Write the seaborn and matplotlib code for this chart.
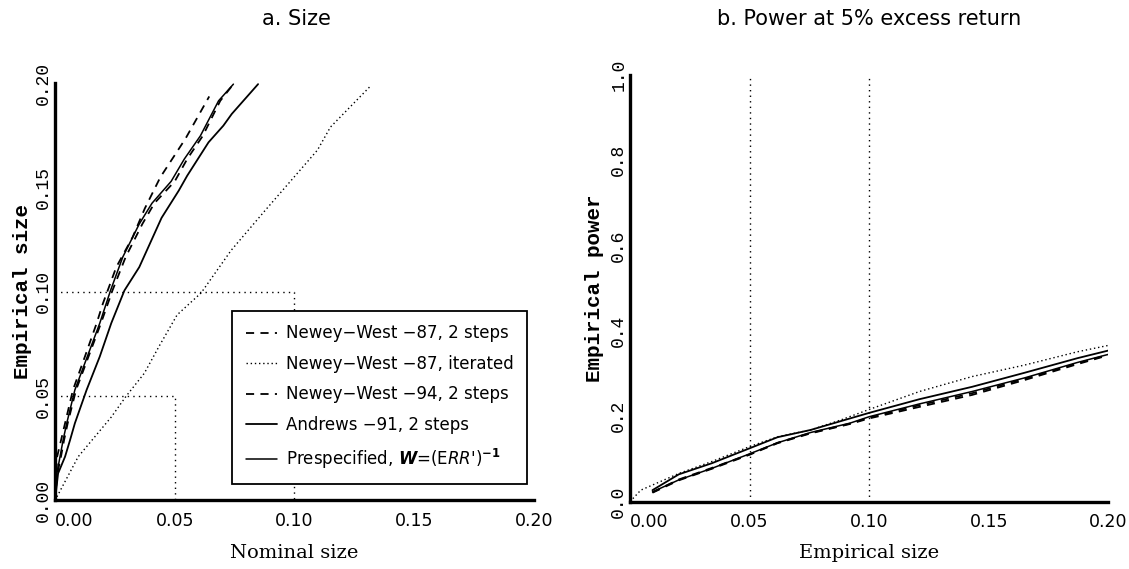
import numpy as np
import pandas as pd
import matplotlib
matplotlib.use("Agg")
import matplotlib.pyplot as plt
import seaborn as sns

# ---------------- data: panel a (size) ----------------
a_nw87_x = [0, 0.0009, 0.0042, 0.0075, 0.0125, 0.0174, 0.0200, 0.0256, 0.0324, 0.0375, 0.0440, 0.0545, 0.0644]
a_nw87_y = [0, 0.021, 0.037, 0.053, 0.069, 0.085, 0.0944, 0.1119, 0.1262, 0.1400, 0.155, 0.1735, 0.1937]

a_iter_x = [0, 0.0097, 0.0235, 0.0297, 0.0373, 0.0435, 0.0510, 0.0610, 0.0736, 0.0877, 0.1013, 0.1096, 0.1150, 0.1320]
a_iter_y = [0, 0.021, 0.040, 0.050, 0.061, 0.074, 0.089, 0.0995, 0.120, 0.139, 0.157, 0.168, 0.179, 0.199]

a_nw94_x = [0, 0.0010, 0.0025, 0.0038, 0.0053, 0.0088, 0.0140, 0.0192, 0.0240, 0.0295, 0.0365, 0.0415, 0.0500, 0.0552, 0.0617, 0.0690, 0.0745]
a_nw94_y = [0, 0.013, 0.021, 0.029, 0.037, 0.053, 0.069, 0.085, 0.1007, 0.1167, 0.1326, 0.1425, 0.153, 0.1637, 0.1748, 0.1916, 0.1996]

a_andr_x = [0, 0.0013, 0.0042, 0.0063, 0.0083, 0.0132, 0.0187, 0.0235, 0.0290, 0.0352, 0.0445, 0.0517, 0.0552, 0.0641, 0.0703, 0.0738, 0.0848]
a_andr_y = [0, 0.013, 0.021, 0.029, 0.037, 0.053, 0.069, 0.085, 0.1007, 0.1119, 0.1355, 0.1486, 0.1557, 0.1717, 0.1797, 0.1853, 0.1996]

a_pre_x = [0, 0.0008, 0.0021, 0.0034, 0.0049, 0.0083, 0.0135, 0.0187, 0.0232, 0.0283, 0.0352, 0.0405, 0.0485, 0.0540, 0.0607, 0.0683, 0.0745]
a_pre_y = [0, 0.013, 0.021, 0.029, 0.037, 0.053, 0.069, 0.085, 0.1007, 0.1167, 0.1326, 0.1425, 0.153, 0.1637, 0.1748, 0.1916, 0.1996]

# ---------------- data: panel b (power) ----------------
b_iter_x = [0, 0.0045, 0.0204, 0.0342, 0.050, 0.0617, 0.0755, 0.0879, 0.100, 0.121, 0.143, 0.165, 0.187, 0.200]
b_iter_y = [0, 0.027, 0.066, 0.094, 0.129, 0.152, 0.168, 0.191, 0.216, 0.258, 0.293, 0.320, 0.351, 0.366]

b_grid_x = [0.0094, 0.0204, 0.0342, 0.050, 0.0617, 0.0755, 0.092, 0.100, 0.121, 0.143, 0.165, 0.187, 0.200]
b_andr_y = [0.027, 0.064, 0.090, 0.125, 0.151, 0.168, 0.195, 0.208, 0.240, 0.269, 0.302, 0.336, 0.354]
b_pre_y = [0.023, 0.051, 0.078, 0.112, 0.138, 0.162, 0.184, 0.199, 0.229, 0.258, 0.290, 0.326, 0.345]
b_nw87_y = [0.021, 0.050, 0.077, 0.110, 0.137, 0.160, 0.182, 0.195, 0.222, 0.250, 0.285, 0.322, 0.343]
b_nw94_y = [0.022, 0.052, 0.079, 0.111, 0.138, 0.161, 0.183, 0.197, 0.226, 0.254, 0.288, 0.324, 0.344]

x_ticks = [0, 0.05, 0.10, 0.15, 0.20]
x_ticklabels = ["0.00", "0.05", "0.10", "0.15", "0.20"]
a_yticks = [0, 0.05, 0.10, 0.15, 0.20]
a_yticklabels = ["0.00", "0.05", "0.10", "0.15", "0.20"]
b_yticks = [0, 0.1, 0.2, 0.3, 0.4, 0.5, 0.6, 0.7, 0.8, 0.9, 1.0]
b_yticklabels = ["0.0", "", "0.2", "", "0.4", "", "0.6", "", "0.8", "", "1.0"]

labels = ["Newey\u2212West \u221287, 2 steps",
          "Newey\u2212West \u221287, iterated",
          "Newey\u2212West \u221294, 2 steps",
          "Andrews \u221291, 2 steps",
          r"Prespecified, $\mathbfit{W}$=(E$\mathit{RR}$')$^{\mathbf{-1}}$"]

sns.set_theme(style="white")
SANS = ['DejaVu Sans']
plt.rcParams['font.family'] = SANS
plt.rcParams['mathtext.fontset'] = 'dejavusans'
for k in ('text.color', 'axes.labelcolor', 'xtick.color', 'ytick.color', 'axes.edgecolor'):
    plt.rcParams[k] = 'black'

fig = plt.figure(figsize=(11.29, 5.69), dpi=100)
axa = fig.add_axes([0.0487, 0.1204, 0.4243, 0.7332])
axb = fig.add_axes([0.5580, 0.1183, 0.4238, 0.7505])

DASH = (0, (4.5, 3.5))
DOT = (0, (1, 2))
LW = 1.3

def draw(ax, x, y, ls, lw=LW, label=None):
    df = pd.DataFrame({"x": x, "y": y})
    sns.lineplot(data=df, x="x", y="y", ax=ax, color="black", linestyle=ls,
                 linewidth=lw, estimator=None, sort=False, label=label)

refdot = (0, (1, 3))
axa.plot([0, 0.10, 0.10], [0.10, 0.10, 0], color="black", lw=1.0, linestyle=refdot)
axa.plot([0, 0.05, 0.05], [0.05, 0.05, 0], color="black", lw=1.0, linestyle=refdot)

draw(axa, a_nw87_x, a_nw87_y, DASH, label=labels[0])
draw(axa, a_iter_x, a_iter_y, DOT, lw=1.0, label=labels[1])
draw(axa, a_nw94_x, a_nw94_y, DASH, label=labels[2])
draw(axa, a_andr_x, a_andr_y, "-", label=labels[3])
draw(axa, a_pre_x, a_pre_y, "-", lw=1.1, label=labels[4])

for xv in (0.05, 0.10):
    axb.plot([xv, xv], [0, 1.0], color="black", lw=1.0, linestyle=refdot)
draw(axb, b_grid_x, b_nw87_y, DASH)
draw(axb, b_iter_x, b_iter_y, DOT, lw=1.0)
draw(axb, b_grid_x, b_nw94_y, DASH)
draw(axb, b_grid_x, b_andr_y, "-")
draw(axb, b_grid_x, b_pre_y, "-", lw=1.1)

tick_font = dict(family=SANS, size=12.5, color='black')
ytick_font = dict(family=['Liberation Mono', 'DejaVu Sans Mono'], size=13, color='black')

def style_axes(ax, ymax, yticks, ylabels):
    ax.set_xlim(0, 0.20)
    ax.set_ylim(0, ymax)
    for s in ("top", "right"):
        ax.spines[s].set_visible(False)
    for s in ("left", "bottom"):
        ax.spines[s].set_linewidth(2.4)
        ax.spines[s].set_color("black")
    ax.set_xticks(x_ticks)
    ax.set_xticklabels(x_ticklabels, fontdict=tick_font)
    ax.get_xticklabels()[0].set_ha("left")
    ax.set_yticks(yticks)
    ax.set_yticklabels(ylabels, fontdict=ytick_font, rotation=90, va="center")
    ax.tick_params(axis="both", direction="in", length=5, width=1.2, color="black")
    ax.tick_params(axis="x", pad=8)
    ax.tick_params(axis="y", pad=2)
    ax.grid(False)

style_axes(axa, 0.20, a_yticks, a_yticklabels)
style_axes(axb, 1.0, b_yticks, b_yticklabels)

ylab_font = dict(family=['Liberation Mono', 'DejaVu Sans Mono'], size=15, weight='bold', color='black')
xlab_font = dict(family=['DejaVu Serif'], size=14, color='black')
axa.set_ylabel("Empirical size", fontdict=ylab_font)
axb.set_ylabel("Empirical power", fontdict=ylab_font)
axa.set_xlabel("Nominal size", fontdict=xlab_font)
axb.set_xlabel("Empirical size", fontdict=xlab_font)
for ax, yl, xl in ((axa, -0.068, -0.126), (axb, -0.075, -0.12)):
    ax.yaxis.set_label_coords(yl, 0.5)
    ax.yaxis.label.set_va("center")
    ax.xaxis.set_label_coords(0.5, xl)
    ax.xaxis.label.set_va("center")

fig.text(0.2626, 0.9666, "a. Size", ha="center", va="center", fontsize=15, family=SANS, color='black')
fig.text(0.7697, 0.9666, "b. Power at 5% excess return", ha="center", va="center", fontsize=15,
         family=SANS, color='black')

leg = axa.legend(loc="upper right", bbox_to_anchor=(0.985, 0.454), borderaxespad=0,
                 fancybox=False, framealpha=1, edgecolor="black", fontsize=12,
                 handlelength=1.9, labelspacing=0.75, handletextpad=0.5, borderpad=0.8)
leg.get_frame().set_linewidth(1.3)
for t in leg.get_texts():
    t.set_color('black')
if axb.get_legend() is not None:
    axb.get_legend().remove()

fig.savefig("out.png", dpi=100)
